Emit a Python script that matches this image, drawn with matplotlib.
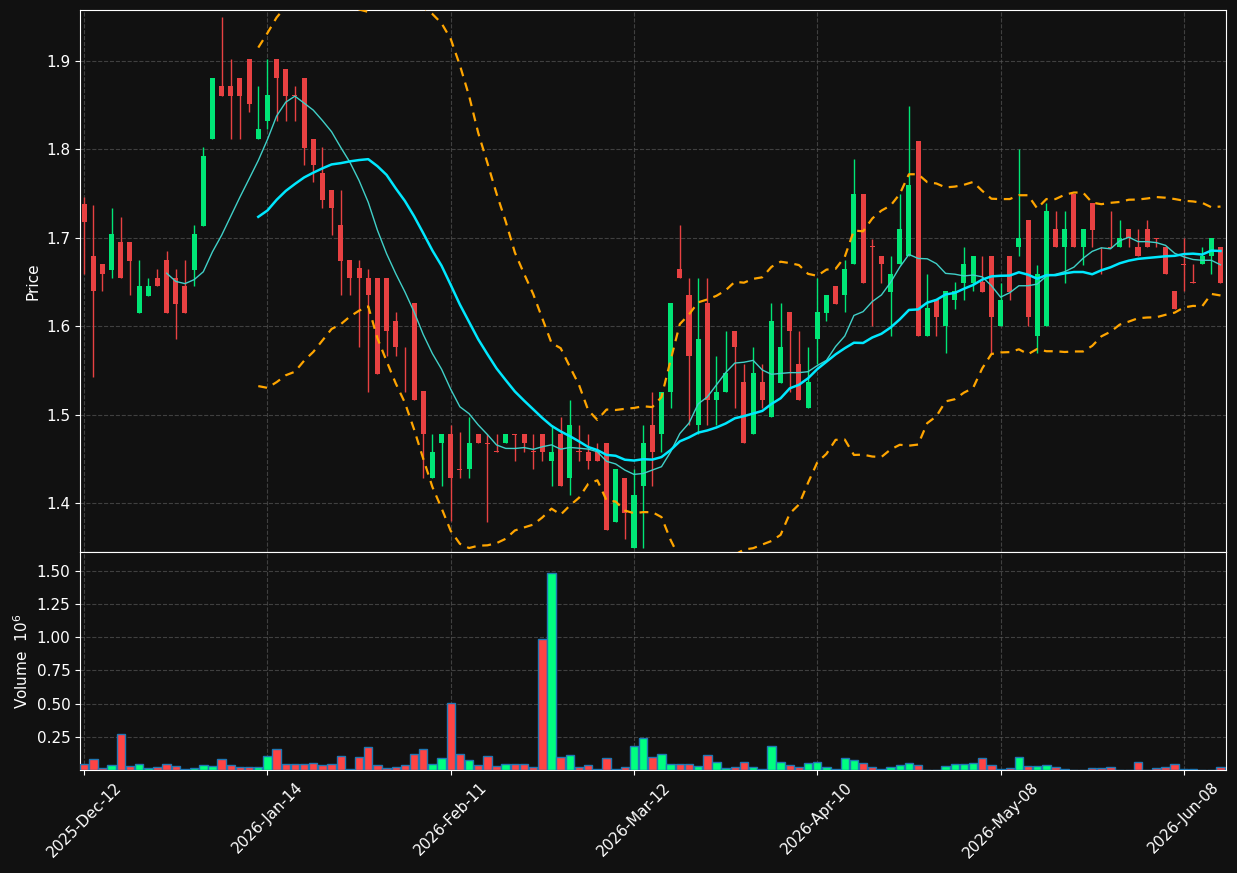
import numpy as np
import pandas as pd
import matplotlib
matplotlib.use("Agg")
import matplotlib.pyplot as plt

# daily OHLC
opens = [1.738, 1.679, 1.670, 1.664, 1.695, 1.695, 1.615, 1.634, 1.655, 1.675,
         1.655, 1.645, 1.664, 1.713, 1.812, 1.872, 1.872, 1.881, 1.902, 1.812,
         1.832, 1.902, 1.891, 1.862, 1.881, 1.812, 1.773, 1.754, 1.714, 1.675,
         1.666, 1.655, 1.655, 1.655, 1.606, 1.577, 1.626, 1.527, 1.428, 1.468,
         1.478, 1.438, 1.438, 1.478, 1.468, 1.459, 1.468, 1.478, 1.478, 1.459,
         1.478, 1.448, 1.478, 1.428, 1.459, 1.458, 1.458, 1.468, 1.379, 1.428,
         1.349, 1.419, 1.488, 1.478, 1.526, 1.665, 1.635, 1.488, 1.626, 1.517,
         1.526, 1.595, 1.537, 1.478, 1.537, 1.497, 1.536, 1.616, 1.557, 1.507,
         1.586, 1.615, 1.645, 1.635, 1.670, 1.750, 1.691, 1.680, 1.639, 1.670,
         1.680, 1.810, 1.589, 1.630, 1.600, 1.630, 1.649, 1.649, 1.650, 1.680,
         1.600, 1.680, 1.690, 1.720, 1.589, 1.600, 1.710, 1.690, 1.750, 1.690,
         1.739, 1.680, 1.690, 1.690, 1.710, 1.690, 1.710, 1.700, 1.690, 1.640,
         1.670, 1.650, 1.670, 1.680, 1.690]
highs = [1.746, 1.737, 1.670, 1.734, 1.724, 1.695, 1.675, 1.655, 1.665, 1.685,
         1.665, 1.675, 1.714, 1.803, 1.881, 1.950, 1.902, 1.881, 1.902, 1.872,
         1.902, 1.902, 1.891, 1.872, 1.881, 1.812, 1.803, 1.754, 1.754, 1.675,
         1.675, 1.665, 1.655, 1.655, 1.616, 1.577, 1.626, 1.527, 1.478, 1.478,
         1.488, 1.480, 1.497, 1.478, 1.478, 1.478, 1.478, 1.478, 1.478, 1.478,
         1.478, 1.488, 1.497, 1.517, 1.488, 1.478, 1.468, 1.468, 1.438, 1.428,
         1.438, 1.488, 1.526, 1.526, 1.626, 1.714, 1.655, 1.655, 1.655, 1.566,
         1.595, 1.595, 1.557, 1.576, 1.557, 1.626, 1.626, 1.616, 1.595, 1.576,
         1.655, 1.635, 1.645, 1.675, 1.789, 1.750, 1.699, 1.680, 1.680, 1.750,
         1.849, 1.810, 1.659, 1.630, 1.640, 1.650, 1.690, 1.680, 1.680, 1.680,
         1.649, 1.680, 1.800, 1.720, 1.669, 1.739, 1.730, 1.730, 1.750, 1.710,
         1.739, 1.690, 1.730, 1.720, 1.710, 1.710, 1.720, 1.700, 1.690, 1.640,
         1.700, 1.670, 1.690, 1.700, 1.690]
lows = [1.659, 1.543, 1.640, 1.655, 1.655, 1.635, 1.615, 1.634, 1.645, 1.615,
        1.586, 1.615, 1.645, 1.713, 1.812, 1.861, 1.812, 1.812, 1.842, 1.812,
        1.823, 1.832, 1.832, 1.832, 1.782, 1.763, 1.734, 1.703, 1.635, 1.635,
        1.576, 1.526, 1.546, 1.566, 1.566, 1.526, 1.517, 1.428, 1.428, 1.419,
        1.380, 1.428, 1.428, 1.468, 1.379, 1.458, 1.468, 1.448, 1.458, 1.438,
        1.448, 1.419, 1.419, 1.409, 1.448, 1.438, 1.448, 1.369, 1.379, 1.359,
        1.349, 1.349, 1.419, 1.458, 1.507, 1.655, 1.488, 1.478, 1.488, 1.488,
        1.526, 1.507, 1.468, 1.478, 1.507, 1.497, 1.536, 1.526, 1.517, 1.507,
        1.557, 1.606, 1.625, 1.616, 1.670, 1.649, 1.600, 1.649, 1.589, 1.670,
        1.680, 1.589, 1.589, 1.589, 1.570, 1.620, 1.630, 1.640, 1.639, 1.570,
        1.600, 1.630, 1.680, 1.600, 1.570, 1.600, 1.690, 1.649, 1.690, 1.669,
        1.690, 1.659, 1.690, 1.690, 1.690, 1.680, 1.690, 1.690, 1.659, 1.620,
        1.640, 1.649, 1.670, 1.659, 1.649]
closes = [1.718, 1.640, 1.659, 1.704, 1.655, 1.674, 1.645, 1.645, 1.645, 1.615,
          1.625, 1.615, 1.704, 1.793, 1.881, 1.861, 1.861, 1.861, 1.851, 1.823,
          1.862, 1.881, 1.861, 1.861, 1.802, 1.782, 1.743, 1.734, 1.674, 1.655,
          1.655, 1.635, 1.546, 1.595, 1.576, 1.576, 1.517, 1.478, 1.458, 1.478,
          1.428, 1.437, 1.468, 1.468, 1.467, 1.458, 1.478, 1.477, 1.468, 1.458,
          1.458, 1.458, 1.419, 1.488, 1.458, 1.448, 1.448, 1.369, 1.438, 1.389,
          1.409, 1.468, 1.458, 1.526, 1.626, 1.655, 1.566, 1.586, 1.517, 1.526,
          1.547, 1.576, 1.468, 1.547, 1.517, 1.606, 1.576, 1.595, 1.517, 1.537,
          1.616, 1.635, 1.625, 1.665, 1.750, 1.649, 1.690, 1.670, 1.659, 1.710,
          1.760, 1.589, 1.621, 1.610, 1.640, 1.640, 1.670, 1.680, 1.639, 1.610,
          1.630, 1.639, 1.700, 1.610, 1.659, 1.730, 1.690, 1.710, 1.690, 1.710,
          1.709, 1.679, 1.689, 1.700, 1.700, 1.680, 1.690, 1.699, 1.659, 1.620,
          1.669, 1.649, 1.680, 1.700, 1.649]
volumes = [43000, 80000, 13000, 35000, 269000, 28000, 43000, 13000, 20000, 43000,
           28000, 5000, 13000, 35000, 28000, 80000, 35000, 20000, 20000, 20000,
           103000, 156000, 43000, 43000, 43000, 50000, 35000, 43000, 103000, 5000,
           95000, 171000, 35000, 13000, 20000, 35000, 118000, 156000, 43000, 88000,
           503000, 118000, 73000, 35000, 103000, 28000, 43000, 43000, 43000, 20000,
           985000, 1482000, 95000, 111000, 20000, 35000, 5000, 88000, 5000, 20000,
           178000, 239000, 95000, 118000, 43000, 43000, 43000, 28000, 111000, 58000,
           13000, 20000, 58000, 20000, 5000, 178000, 58000, 35000, 20000, 50000,
           58000, 20000, 5000, 88000, 73000, 50000, 20000, 5000, 20000, 35000,
           50000, 35000, 3000, 3000, 28000, 43000, 43000, 50000, 88000, 35000,
           5000, 13000, 95000, 28000, 28000, 35000, 20000, 4000, 3000, 3000,
           13000, 13000, 20000, 3000, 3000, 58000, 3000, 13000, 20000, 43000,
           10000, 4000, 2000, 2000, 20000]

tick_pos = [0, 20, 40, 60, 80, 100, 120]
tick_labels = ["2025-Dec-12", "2026-Jan-14", "2026-Feb-11", "2026-Mar-12",
               "2026-Apr-10", "2026-May-08", "2026-Jun-08"]

df = pd.DataFrame({"Open": opens, "High": highs, "Low": lows,
                   "Close": closes, "Volume": volumes})
x = np.arange(len(df))
up = df["Close"] >= df["Open"]

# moving averages and bands on the close
ma10 = df["Close"].rolling(10).mean()
ma20 = df["Close"].rolling(20).mean()
sd20 = df["Close"].rolling(20).std(ddof=0)
upper = ma20 + 2 * sd20
lower = ma20 - 2 * sd20

bg = "#111111"
up_c, dn_c = "#00e676", "#e84142"
vup_c, vdn_c = "#00ff80", "#ff4444"

fig = plt.figure(figsize=(12.37, 8.73), dpi=100, facecolor=bg)
ax = fig.add_axes([0.0647, 0.3677, 0.9264, 0.6208])
axv = fig.add_axes([0.0647, 0.118, 0.9264, 0.2497], sharex=ax)

for a in (ax, axv):
    a.set_facecolor(bg)
    a.grid(True, color="#555555", linestyle="--", linewidth=0.8, alpha=0.7)
    a.set_axisbelow(True)
    for s in a.spines.values():
        s.set_color("white")
    a.tick_params(colors="white", labelsize=11)

colors = np.where(up, up_c, dn_c)
ax.vlines(x, df["Low"], df["High"], colors=colors, linewidth=1.0, zorder=2)
body_h = (df["Close"] - df["Open"]).abs().clip(lower=0.0008)
body_b = df[["Open", "Close"]].min(axis=1)
ax.bar(x, body_h, bottom=body_b, width=0.55, color=colors, linewidth=0, zorder=3)

ax.plot(x, ma10, color="#40d0c8", linewidth=1.0, zorder=4)
ax.plot(x, ma20, color="#00e8ff", linewidth=1.8, zorder=4)
ax.plot(x, upper, color="#ffa500", linewidth=1.6, linestyle=(0, (4, 3)), zorder=4)
ax.plot(x, lower, color="#ffa500", linewidth=1.6, linestyle=(0, (4, 3)), zorder=4)

ax.set_ylim(1.3446, 1.9577)
ax.set_yticks([1.4, 1.5, 1.6, 1.7, 1.8, 1.9])
ax.set_ylabel("Price", color="white", fontsize=11)
ax.tick_params(axis="x", labelbottom=False)

vcolors = np.where(up, vup_c, vdn_c)
axv.bar(x, df["Volume"] / 1e6, width=0.92, color=vcolors,
        edgecolor="#1f77b4", linewidth=1.0, zorder=3)
axv.set_ylim(0, 1.64)
axv.set_yticks([0.25, 0.5, 0.75, 1.0, 1.25, 1.5])
axv.set_ylabel("Volume  $10^6$", color="white", fontsize=11)

axv.set_xlim(-0.45, 124.6)
axv.set_xticks(tick_pos)
axv.set_xticklabels(tick_labels, rotation=45, ha="center")

fig.savefig("out.png", dpi=100, facecolor=bg)
